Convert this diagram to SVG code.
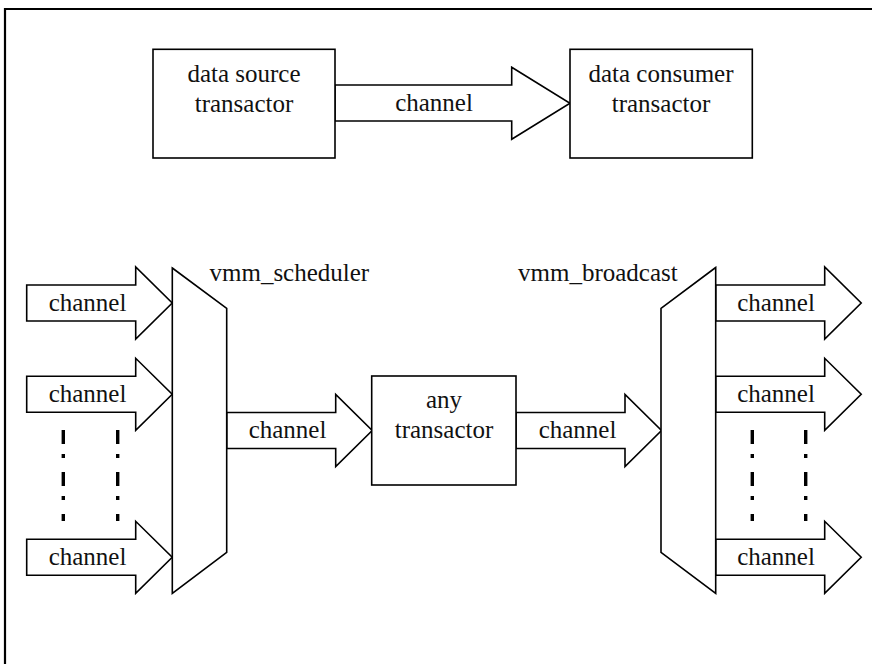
<svg xmlns="http://www.w3.org/2000/svg" xmlns:xlink="http://www.w3.org/1999/xlink" width="872" height="664" viewBox="0 0 872 664">
<style>
.shape{fill:#fff;stroke:#000;stroke-width:1.6;stroke-linejoin:miter}
.frame{fill:none;stroke:#000;stroke-width:2.2}
.t{font-family:"Liberation Serif","Times New Roman",serif;font-size:25px;fill:#111;text-anchor:middle}
.tl{font-family:"Liberation Serif","Times New Roman",serif;font-size:25px;fill:#111;text-anchor:start}
.dd{fill:none;stroke:#000;stroke-width:3.4;stroke-dasharray:14 10 4 14}
</style>
<defs>
<path id="blk" class="shape" d="M0,-18 H109 V-36 L145.5,0 L109,36 V18 H0 Z"/>
</defs>
<rect width="872" height="664" fill="#fff"/>
<path class="frame" d="M5,664 V9 H872"/>

<g id="connectors">
  <g id="c-top">
    <path class="shape" d="M335,85 H511.7 V67.3 L570,103.2 L511.7,139.3 V121 H335 Z"/>
    <text class="t" x="434" y="110.5">channel</text>
  </g>
  <g id="c-in1"><use xlink:href="#blk" x="26.7" y="303"/><text class="t" x="87.5" y="311">channel</text></g>
  <g id="c-in2"><use xlink:href="#blk" x="26.7" y="394.3"/><text class="t" x="87.5" y="402.3">channel</text></g>
  <g id="c-in3"><use xlink:href="#blk" x="26.7" y="557.3"/><text class="t" x="87.5" y="565.3">channel</text></g>
  <g id="c-mid1"><use xlink:href="#blk" x="226.7" y="430.5"/><text class="t" x="287.5" y="438">channel</text></g>
  <g id="c-mid2"><use xlink:href="#blk" x="516" y="430.5"/><text class="t" x="577.5" y="438">channel</text></g>
  <g id="c-out1"><use xlink:href="#blk" x="715.7" y="303"/><text class="t" x="776" y="311">channel</text></g>
  <g id="c-out2"><use xlink:href="#blk" x="715.7" y="394.3"/><text class="t" x="776" y="402.3">channel</text></g>
  <g id="c-out3"><use xlink:href="#blk" x="715.7" y="557.3"/><text class="t" x="776" y="565.3">channel</text></g>
</g>

<g id="ellipsis">
  <line class="dd" x1="63.3" y1="430" x2="63.3" y2="521"/>
  <line class="dd" x1="117.7" y1="430" x2="117.7" y2="521"/>
  <line class="dd" x1="752.3" y1="430" x2="752.3" y2="521"/>
  <line class="dd" x1="805.7" y1="430" x2="805.7" y2="521"/>
</g>

<g id="source">
  <rect class="shape" x="153" y="49.3" width="182" height="108.7"/>
  <text class="t" x="244" y="82">data source</text>
  <text class="t" x="244" y="112">transactor</text>
</g>
<g id="consumer">
  <rect class="shape" x="570" y="49.3" width="182.3" height="108.7"/>
  <text class="t" x="661" y="82">data consumer</text>
  <text class="t" x="661" y="112">transactor</text>
</g>
<g id="scheduler">
  <path class="shape" d="M172.3,268 L226.7,308.3 V552.3 L172.3,593.3 Z"/>
  <text class="tl" x="209.5" y="281">vmm_scheduler</text>
</g>
<g id="any">
  <rect class="shape" x="371.7" y="376" width="144.3" height="109"/>
  <text class="t" x="444" y="408">any</text>
  <text class="t" x="444" y="438">transactor</text>
</g>
<g id="broadcast">
  <path class="shape" d="M715.7,267.5 L661,308.3 V552.3 L715.7,593.3 Z"/>
  <text class="tl" x="518" y="281">vmm_broadcast</text>
</g>
</svg>
